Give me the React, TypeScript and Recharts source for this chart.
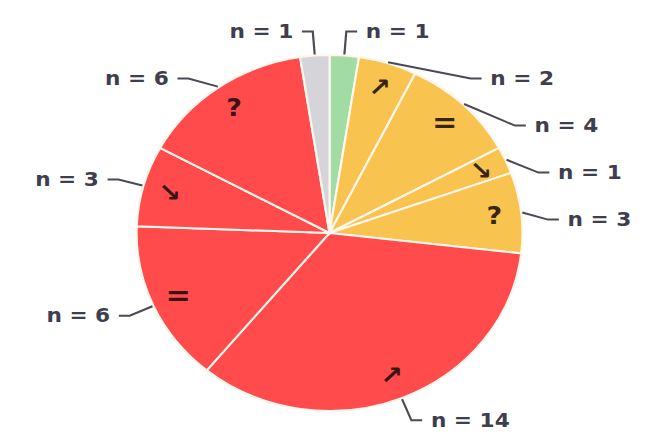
import React from 'react';
import { PieChart, Pie, Cell } from 'recharts';

// ---- data ----
const sliceNames = [
  'green', 'amber-up', 'amber-equal', 'amber-down', 'amber-unknown',
  'red-up', 'red-equal', 'red-down', 'red-unknown', 'grey',
];
const counts = [1, 2, 4, 1, 3, 14, 6, 3, 6, 1];
const trendSymbols = ['', '↗', '=', '↘', '?', '↗', '=', '↘', '?', ''];

// ---- styles ----
const sliceColors = [
  '#A3DBA5', '#F9C350', '#F9C350', '#F9C350', '#F9C350',
  '#FF4B4B', '#FF4B4B', '#FF4B4B', '#FF4B4B', '#D5D5D9',
];

const data = sliceNames.map((name, i) => ({ name, value: counts[i] }));

const RAD = Math.PI / 180;
const START = 90;
const END = -270;

function layoutLabels(cx: number, cy: number, r: number) {
  const total = counts.reduce((a, b) => a + b, 0);
  let acc = 0;
  const lr = r + 24;
  const items = counts.map((v, i) => {
    const mid = START + ((END - START) * (acc + v / 2)) / total;
    acc += v;
    const right = Math.cos(mid * RAD) >= 0;
    return { i, mid, right, y: cy - lr * Math.sin(mid * RAD), x: 0 };
  });
  const gap = 47;
  [true, false].forEach((side) => {
    const grp = items.filter((it) => it.right === side).sort((a, b) => a.y - b.y);
    let prev = -Infinity;
    grp.forEach((it) => {
      it.y = Math.max(it.y, prev + gap);
      prev = it.y;
      const dy = it.y - cy;
      const dx = Math.sqrt(Math.max(0, lr * lr - dy * dy));
      it.x = cx + (side ? dx : -dx);
    });
  });
  return items;
}

const renderLabel = (props: any) => {
  const { cx, cy, outerRadius, midAngle } = props;
  const index = props.index ?? sliceNames.indexOf(props.name);
  const items = layoutLabels(cx, cy, outerRadius);
  const it = items[index];
  const cos = Math.cos(-midAngle * RAD);
  const sin = Math.sin(-midAngle * RAD);
  const x0 = cx + (outerRadius + 1) * cos;
  const y0 = cy + (outerRadius + 1) * sin;
  const sgn = it.right ? 1 : -1;
  const x2 = it.x + sgn * 10;
  const sr = outerRadius * 0.86;
  const sym = trendSymbols[index];
  return (
    <g>
      <polyline
        points={`${x0},${y0} ${it.x},${it.y} ${x2},${it.y}`}
        fill="none"
        stroke="#4a4a55"
        strokeWidth={2}
      />
      <text
        x={it.x + sgn * 18}
        y={it.y}
        textAnchor={it.right ? 'start' : 'end'}
        dominantBaseline="central"
        fontFamily="DejaVu Sans"
        fontWeight="bold"
        fontSize={20}
        fill="#3e3e4c"
      >
        {`n = ${counts[index]}`}
      </text>
      {sym ? (
        <text
          x={cx + sr * cos}
          y={cy + sr * sin}
          textAnchor="middle"
          dominantBaseline="central"
          fontFamily="DejaVu Sans"
          fontWeight="bold"
          fontSize={sym === '=' ? 28 : 25}
          fill="rgba(20,10,10,0.85)"
        >
          {sym}
        </text>
      ) : null}
    </g>
  );
};

export default function App() {
  return (
    <div
      style={{
        position: 'absolute',
        left: 0,
        top: 0,
        width: 650,
        height: 441,
        overflow: 'hidden',
        background: '#fff',
      }}
    >
      <div style={{ transform: 'scaleX(1.084)', transformOrigin: '0 0', width: 600, height: 441 }}>
        <PieChart width={600} height={441} margin={{ top: 0, right: 0, bottom: 0, left: 0 }}>
          <Pie
            data={data}
            dataKey="value"
            nameKey="name"
            cx={304}
            cy={233}
            outerRadius={178}
            startAngle={START}
            endAngle={END}
            stroke="#FFF6EE"
            strokeWidth={2}
            label={renderLabel}
            labelLine={false}
            isAnimationActive={false}
          >
            {data.map((d, i) => (
              <Cell key={d.name} fill={sliceColors[i]} />
            ))}
          </Pie>
        </PieChart>
      </div>
    </div>
  );
}
